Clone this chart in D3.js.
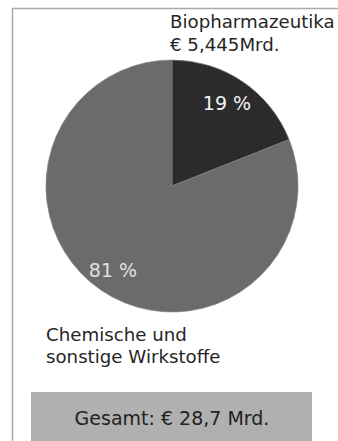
<!DOCTYPE html>
<html>
<head>
<meta charset="utf-8">
<script src="https://cdn.jsdelivr.net/npm/d3@7.9.0/dist/d3.min.js"></script>
<style>
  body { margin: 0; background: #fff; }
  svg { display: block; font-family: "DejaVu Sans", Verdana, sans-serif; }
</style>
</head>
<body>
<svg id="chart" width="338" height="441"></svg>
<script>
// data
const categories = ['Biopharmazeutika', 'Chemische und sonstige Wirkstoffe'];
const shares = [19, 81];
const sliceLabels = ['19 %', '81 %'];
const catLabels = [
  ['Biopharmazeutika', '€ 5,445Mrd.'],
  ['Chemische und', 'sonstige Wirkstoffe']
];
const totalLabel = 'Gesamt: € 28,7 Mrd.';

const svg = d3.select('#chart');

// frame lines (top + left)
svg.append('path')
  .attr('d', 'M12.5,441 V8.5 H338')
  .attr('fill', 'none')
  .attr('stroke', '#aaa')
  .attr('stroke-width', 1.5);

const cx = 172, cy = 186, r = 126;

let pie = d3.pie().sort(null).value(d => d);
let arcGenerator = d3.arc().innerRadius(0).outerRadius(r);
let colors = d3.scaleOrdinal().domain(categories).range(['#2b2b2b', '#6b6b6b']);

const g = svg.append('g').attr('transform', `translate(${cx},${cy})`);
const arcData = pie(shares);

g.selectAll('path')
  .data(arcData)
  .join('path')
  .attr('d', arcGenerator)
  .attr('fill', (d, i) => colors(categories[i]))
  .attr('stroke', '#808080')
  .attr('stroke-width', 0.7);

// percent labels inside slices
const labelPos = [[227, 110], [113, 277]];
g.selectAll('text.pct')
  .data(arcData)
  .join('text')
  .attr('class', 'pct')
  .attr('x', (d, i) => labelPos[i][0] - cx)
  .attr('y', (d, i) => labelPos[i][1] - cy)
  .attr('text-anchor', 'middle')
  .attr('font-size', 19)
  .attr('fill', (d, i) => i === 0 ? '#f2f2f2' : '#e0e0e0')
  .text((d, i) => sliceLabels[i]);

// category labels
const catPos = [[170, 28, 23], [46, 341, 22]];
catLabels.forEach((lines, i) => {
  const t = svg.append('text')
    .attr('x', catPos[i][0])
    .attr('y', catPos[i][1])
    .attr('font-size', 18.2)
    .attr('fill', '#262626');
  lines.forEach((s, j) => {
    t.append('tspan')
      .attr('x', catPos[i][0])
      .attr('dy', j === 0 ? 0 : catPos[i][2])
      .text(s);
  });
});

// total box
svg.append('rect')
  .attr('x', 31).attr('y', 392)
  .attr('width', 281).attr('height', 49)
  .attr('fill', '#b0b0b0');

svg.append('text')
  .attr('x', 172).attr('y', 425)
  .attr('text-anchor', 'middle')
  .attr('font-size', 19)
  .attr('fill', '#222')
  .text(totalLabel);
</script>
</body>
</html>
